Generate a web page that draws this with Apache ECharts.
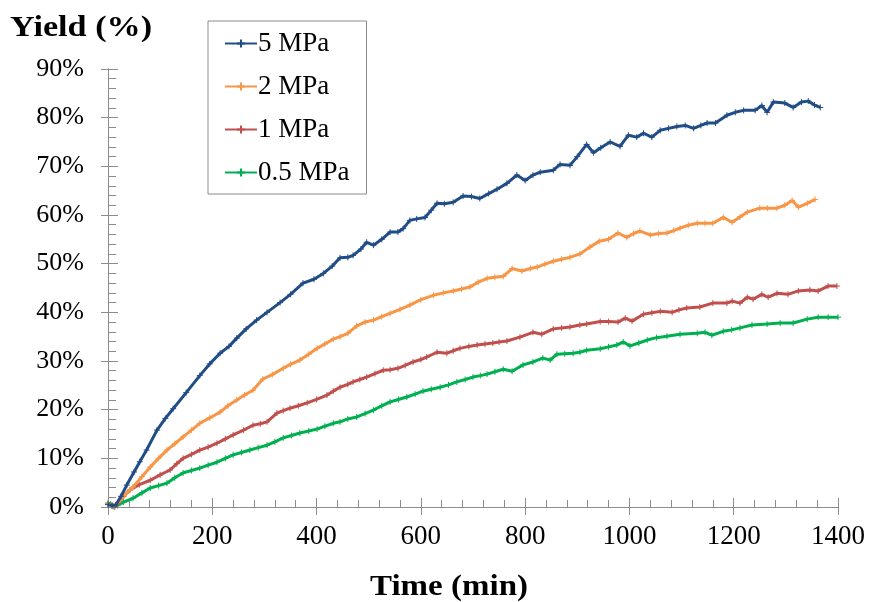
<!DOCTYPE html>
<html><head><meta charset="utf-8">
<script src="https://cdn.jsdelivr.net/npm/echarts@6/dist/echarts.min.js"></script>
<style>html,body{margin:0;padding:0;background:#fff}#c{width:870px;height:602px}</style>
</head><body><div id="c"></div>
<script>
const seriesNames = ['5 MPa', '2 MPa', '1 MPa', '0.5 MPa'];
const colors = ['#214D86', '#F79646', '#C0504D', '#00B050'];
const xTicks = [0, 200, 400, 600, 800, 1000, 1200, 1400];
const yTicks = [0, 10, 20, 30, 40, 50, 60, 70, 80, 90];

const t5 = [0,8,15,25,36,50,61,74,94,110,125,150,176,195,215,232,247,265,285,305,330,350,374,395,413,430,445,460,470,485,496,509,525,541,556,566,579,592,608,620,631,645,662,681,697,713,730,746,765,784,800,815,829,854,867,886,900,918,931,945,963,982,998,1014,1027,1043,1059,1075,1091,1107,1123,1137,1149,1165,1187,1203,1219,1241,1254,1264,1276,1298,1314,1330,1343,1355,1366];
const y5 = [0.5,0.3,0.4,2.2,4.5,7.2,9.3,11.7,15.8,18.2,20.2,23.5,27,29.4,31.6,33,34.7,36.6,38.4,40,42,43.7,46,46.8,48,49.5,51.2,51.3,51.7,53,54.4,53.8,55,56.5,56.5,57.2,58.9,59.2,59.5,61,62.4,62.3,62.6,63.9,63.8,63.4,64.4,65.3,66.5,68.2,67.1,68.2,68.8,69.2,70.4,70.2,72,74.5,72.8,73.8,75,74.1,76.4,76,76.8,76,77.4,77.8,78.2,78.4,77.8,78.4,78.9,78.9,80.5,81.1,81.5,81.5,82.5,81.1,83.2,83,82.1,83.2,83.4,82.6,82.1];

const t2 = [0,8,15,23,35,48,65,81,97,113,128,144,160,176,195,215,230,247,262,278,297,315,336,350,368,385,401,416,432,445,460,477,493,509,525,541,560,579,600,624,643,662,678,694,710,727,742,758,775,794,810,823,838,854,870,886,905,924,942,960,978,995,1008,1020,1040,1056,1072,1085,1097,1113,1130,1145,1160,1180,1197,1212,1226,1250,1265,1283,1298,1312,1324,1341,1356];
const y2 = [0.6,0.3,0.5,1.4,2.8,4.1,6.2,8.2,10,11.7,13,14.4,15.8,17.2,18.3,19.5,20.8,22,23,24,26.3,27.2,28.5,29.3,30.2,31.4,32.6,33.5,34.5,35,35.7,37.2,38,38.4,39.1,39.8,40.6,41.5,42.6,43.5,44,44.4,44.8,45.2,46.2,47,47.2,47.4,49,48.5,49,49.3,49.9,50.5,50.9,51.3,52,53.4,54.6,55,56.3,55.4,56.2,56.7,55.9,56.2,56.3,56.8,57.3,57.9,58.3,58.3,58.3,59.5,58.5,59.6,60.6,61.4,61.4,61.4,62,63,61.6,62.4,63.2];

const t1 = [0,7,13,20,30,42,60,81,100,119,132,144,160,176,192,209,225,240,260,278,292,305,324,336,349,365,382,400,420,432,445,460,470,483,496,512,528,541,556,570,585,600,611,631,650,662,675,692,708,723,738,750,765,790,815,832,854,870,886,905,918,944,960,978,992,1005,1027,1043,1059,1082,1095,1110,1135,1160,1187,1197,1212,1226,1237,1254,1266,1283,1304,1324,1346,1362,1381,1398];
const y1 = [0.6,0.3,0,0.8,2.2,3.5,4.6,5.5,6.6,7.6,8.9,10,10.8,11.7,12.3,13.1,14,14.8,15.8,16.8,17.1,17.5,19.3,19.8,20.3,20.8,21.4,22.1,23,23.8,24.6,25.2,25.7,26.2,26.7,27.4,28.1,28.2,28.5,29.1,29.8,30.3,30.8,31.8,31.6,32.1,32.6,33,33.3,33.5,33.7,33.9,34.1,34.9,35.9,35.5,36.6,36.8,37,37.4,37.6,38.1,38.1,38,38.8,38.2,39.6,39.9,40.2,40,40.5,40.9,41.1,41.9,41.9,42.3,41.9,43.1,42.7,43.7,43.1,43.9,43.7,44.4,44.6,44.4,45.4,45.4];

const t05 = [0,5,10,18,30,48,65,81,97,113,128,144,160,176,192,209,225,240,256,272,288,305,320,336,352,368,385,401,416,432,445,460,477,493,509,525,541,557,573,589,604,620,637,653,669,685,700,714,727,742,758,775,796,815,834,848,861,876,892,905,918,944,960,976,988,1001,1018,1034,1052,1072,1097,1130,1145,1158,1180,1196,1212,1235,1264,1289,1314,1341,1362,1381,1400];
const y05 = [0.8,0.6,0.1,0.3,1,1.8,2.9,3.9,4.4,4.9,6,7,7.5,8,8.6,9.2,10,10.7,11.2,11.7,12.2,12.7,13.4,14.2,14.7,15.2,15.6,16,16.6,17.2,17.5,18.1,18.5,19.2,19.9,20.8,21.6,22.1,22.6,23.2,23.8,24.2,24.6,25.1,25.7,26.2,26.7,27,27.3,27.8,28.3,27.9,29.2,29.8,30.6,30.2,31.4,31.5,31.6,31.8,32.2,32.5,32.9,33.3,33.9,33.1,33.7,34.3,34.8,35.1,35.5,35.7,35.9,35.3,36.1,36.4,36.8,37.4,37.6,37.8,37.8,38.6,39,39,39];

const times = [t5, t2, t1, t05];
const values = [y5, y2, y1, y05];

const font = 'Liberation Serif, Times New Roman, serif';
const axisColor = '#8C8C8C';
const plus = 'path://M5,0 L5,10 M0,5 L10,5';

const chart = echarts.init(document.getElementById('c'), null, {renderer: 'canvas'});

function pairs(ts, vs) { return ts.map((t, i) => [t, vs[i]]); }

const xMin = xTicks[0], xMax = xTicks[xTicks.length - 1], xInt = xTicks[1] - xTicks[0];
const yMin = yTicks[0], yMax = yTicks[yTicks.length - 1], yInt = yTicks[1] - yTicks[0];

const baseX = {
  type: 'value', min: xMin, max: xMax, interval: xInt, gridIndex: 0, position: 'bottom',
  axisLine: {show: true, lineStyle: {color: axisColor, width: 1}},
  splitLine: {show: false}
};
const baseY = {
  type: 'value', min: yMin, max: yMax, interval: yInt, gridIndex: 0, position: 'left',
  axisLine: {show: true, lineStyle: {color: axisColor, width: 1}},
  splitLine: {show: false}
};

chart.setOption({
  animation: false,
  backgroundColor: '#fff',
  grid: {left: 108, right: 32, top: 69, bottom: 95, containLabel: false},
  legend: {
    data: seriesNames,
    orient: 'vertical',
    left: 208, top: 21,
    padding: [9, 17, 8, 16],
    itemGap: 16,
    itemWidth: 32, itemHeight: 10,
    borderColor: '#8C8C8C', borderWidth: 1,
    textStyle: {fontFamily: font, fontSize: 27, color: '#000', padding: [0, 0, 0, -4]}
  },
  xAxis: [
    Object.assign({}, baseX, {
      axisTick: {show: true, inside: false, length: 8, lineStyle: {color: axisColor}},
      axisLabel: {show: true, fontFamily: font, fontSize: 27, color: '#000', margin: 16, formatter: v => String(v)}
    }),
    Object.assign({}, baseX, {
      axisTick: {show: true, inside: true, length: 9, lineStyle: {color: axisColor}},
      minorTick: {show: true, splitNumber: 5, length: 7, lineStyle: {color: axisColor}},
      axisLabel: {show: false}
    })
  ],
  yAxis: [
    Object.assign({}, baseY, {
      axisTick: {show: true, inside: false, length: 7, lineStyle: {color: axisColor}},
      axisLabel: {show: true, fontFamily: font, fontSize: 26, color: '#000', margin: 24, formatter: v => v + '%'}
    }),
    Object.assign({}, baseY, {
      axisTick: {show: true, inside: true, length: 10, lineStyle: {color: axisColor}},
      minorTick: {show: true, splitNumber: 5, length: 8, lineStyle: {color: axisColor}},
      axisLabel: {show: false}
    })
  ],
  graphic: [
    {type: 'text', x: 10, y: 28, scaleX: 1.14,
     style: {text: 'Yield (%)', font: 'bold 30px ' + font, fill: '#000', textAlign: 'left', textVerticalAlign: 'middle'}},
    {type: 'text', x: 449, y: 587, scaleX: 1.1,
     style: {text: 'Time (min)', font: 'bold 30px ' + font, fill: '#000', textAlign: 'center', textVerticalAlign: 'middle'}}
  ],
  series: seriesNames.map((name, i) => ({
    name: name,
    type: 'line',
    xAxisIndex: 0, yAxisIndex: 0,
    data: pairs(times[i], values[i]),
    color: colors[i],
    lineStyle: {width: 3, color: colors[i]},
    symbol: plus,
    symbolSize: 6,
    showSymbol: true,
    itemStyle: {color: colors[i], borderColor: colors[i], borderWidth: 1},
    z: 10 - i
  }))
});
</script></body></html>
